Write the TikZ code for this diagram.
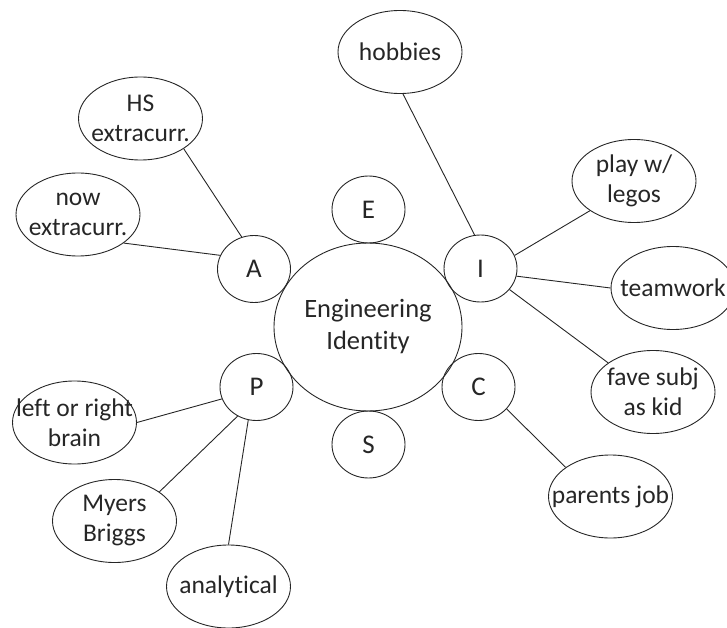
\documentclass[tikz,border=0pt]{standalone}
\usepackage{fontspec}
\setmainfont{Carlito}[Ligatures=NoCommon]
\usetikzlibrary{shapes.geometric}
\definecolor{ink}{HTML}{262626}
\tikzset{
  base/.style={draw=ink, line width=0.9pt, shape=ellipse, inner sep=0pt, text=ink, align=center},
  hub/.style={base, minimum width=188pt, minimum height=168pt, font=\fontsize{26.5}{32}\selectfont},
  letter/.style={base, minimum width=73pt, minimum height=67pt, font=\fontsize{27}{32}\selectfont},
  leaf/.style={base, inner sep=-20pt, minimum width=124pt, minimum height=83pt, font=\fontsize{25.5}{30}\selectfont},
  link/.style={draw=ink, line width=0.9pt}
}
\begin{document}
\begin{tikzpicture}[x=1pt, y=-1pt]
\useasboundingbox (0,0) rectangle (727,628);

% central concept and its six letters
\node[hub] (eng) at (368,327) {Engineering\\Identity};
\node[letter] (E) at (368.5,209.5) {E};
\node[letter] (A) at (254,269) {A};
\node[letter] (I) at (480.5,268.5) {I};
\node[letter] (P) at (256.5,387) {P};
\node[letter] (C) at (478.5,387) {C};
\node[letter] (S) at (368.5,444.5) {S};

% outer ideas
\node[leaf] (hs) at (140.5,118.5) {HS\\extracurr.};
\node[leaf] (now) at (78,214.5) {now\\extracurr.};
\node[leaf] (hob) at (400,52) {hobbies};
\node[leaf] (lego) at (634,181) {play w/\\legos};
\node[leaf] (team) at (673,288) {teamwork};
\node[leaf] (fave) at (653,392) {fave subj\\as kid};
\node[leaf] (par) at (610.5,496.5) {parents job};
\node[leaf] (brain) at (74.5,422.5) {left or right\\brain};
\node[leaf] (mb) at (114.5,521) {Myers\\Briggs};
\node[leaf] (ana) at (228.5,586.5) {analytical};

% connectors
\draw[link] (A.111) -- (hs.-35);
\draw[link] (A.158) -- (now.-32);
\draw[link] (I.100) -- (hob.-86);
\draw[link] (I.21) -- (lego.214);
\draw[link] (I.-12) -- (team.180);
\draw[link] (I.-36) -- (fave.147);
\draw[link] (C.-38) -- (par.147);
\draw[link] (P.199) -- (brain.0);
\draw[link] (P.237) -- (mb.33);
\draw[link] (P.256) -- (ana.90);
\end{tikzpicture}
\end{document}
